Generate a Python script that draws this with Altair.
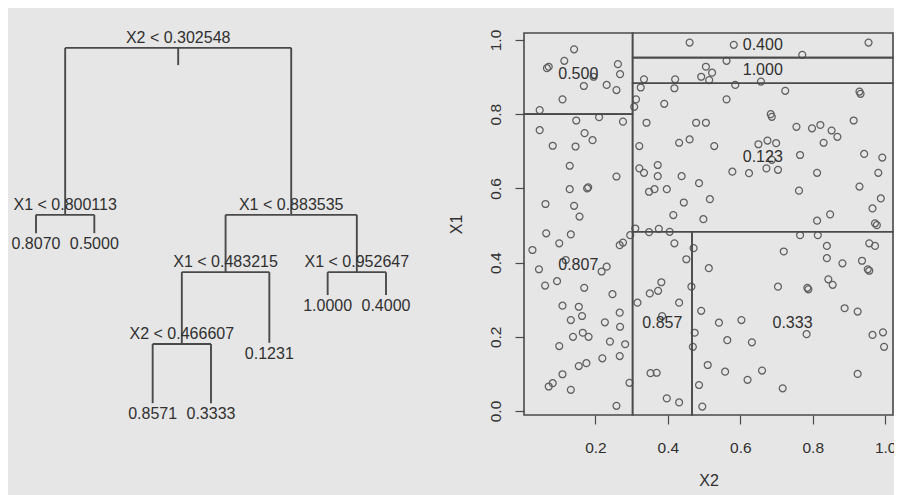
import altair as alt
import pandas as pd

# ---------------- data ----------------
# regression tree (R tree numbering: children of n are 2n and 2n+1)
node_num = [1, 2, 3, 4, 5, 6, 7, 12, 13, 14, 15, 24, 25]
node_label = ["X2 < 0.302548", "X1 < 0.800113", "X1 < 0.883535", "0.8070", "0.5000",
              "X1 < 0.483215", "X1 < 0.952647", "X2 < 0.466607", "0.1231", "1.0000",
              "0.4000", "0.8571", "0.3333"]
node_height = [96.1, 52.4, 52.4, 47.6, 47.6, 37.4, 37.4, 18.6, 18.9, 31.4, 31.4, 3.1, 3.1]

# partition regions: (X2 low, X2 high, X1 low, X1 high), None = open end
region_label = ["0.807", "0.500", "0.857", "0.333", "0.123", "1.000", "0.400"]
region_x2_lo = [None, None, 0.302548, 0.466607, 0.302548, 0.302548, 0.302548]
region_x2_hi = [0.302548, 0.302548, 0.466607, None, None, None, None]
region_x1_lo = [None, 0.800113, None, None, 0.483215, 0.883535, 0.952647]
region_x1_hi = [0.800113, None, 0.483215, 0.483215, 0.883535, 0.952647, None]

# scatter points
x2_vals = [0.141, 0.114, 0.066, 0.071, 0.262, 0.268, 0.168, 0.195, 0.231, 0.258, 0.109, 0.046,
           0.460, 0.582, 0.771, 0.954, 0.562, 0.505, 0.492, 0.522, 0.514,
           0.334, 0.325, 0.420, 0.418, 0.586, 0.657, 0.724, 0.929, 0.932,
           0.312, 0.307, 0.390, 0.562, 0.684, 0.687,
           0.147, 0.210, 0.276, 0.046, 0.341, 0.478, 0.505,
           0.170, 0.192, 0.082, 0.145, 0.431, 0.460, 0.528, 0.321,
           0.650, 0.675, 0.699, 0.755, 0.798, 0.821, 0.852, 0.868, 0.830, 0.913,
           0.765, 0.942, 0.992, 0.129, 0.258, 0.321, 0.334, 0.372, 0.372, 0.438,
           0.578, 0.624, 0.672, 0.704, 0.687, 0.812, 0.981,
           0.129, 0.177, 0.180, 0.348, 0.363, 0.397, 0.486, 0.516, 0.444, 0.762, 0.929, 0.988,
           0.062, 0.141, 0.156, 0.415, 0.498, 0.965, 0.848, 0.812, 0.972, 0.977,
           0.064, 0.132, 0.310, 0.296, 0.348, 0.375, 0.405, 0.765, 0.814,
           0.026, 0.100, 0.267, 0.276, 0.418, 0.471, 0.720, 0.839, 0.956, 0.972,
           0.044, 0.118, 0.217, 0.231, 0.451, 0.513, 0.839, 0.882, 0.936, 0.952, 0.956,
           0.061, 0.094, 0.169, 0.247, 0.382, 0.373, 0.350, 0.465, 0.704, 0.785, 0.788, 0.843, 0.855,
           0.109, 0.154, 0.163, 0.132, 0.267, 0.226, 0.268, 0.316, 0.431, 0.384, 0.492, 0.541, 0.603, 0.888, 0.924,
           0.474, 0.469, 0.564, 0.632, 0.783, 0.965, 0.994, 0.997,
           0.100, 0.138, 0.165, 0.181, 0.240, 0.282, 0.267, 0.219, 0.154, 0.175, 0.109, 0.071, 0.082, 0.132, 0.294, 0.352, 0.369,
           0.510, 0.558, 0.620, 0.660, 0.924, 0.486, 0.717, 0.258, 0.397, 0.431, 0.495]
x1_vals = [0.975, 0.944, 0.924, 0.928, 0.935, 0.908, 0.876, 0.901, 0.879, 0.865, 0.840, 0.811,
           0.993, 0.987, 0.960, 0.993, 0.944, 0.928, 0.901, 0.912, 0.892,
           0.894, 0.872, 0.894, 0.870, 0.879, 0.888, 0.863, 0.861, 0.855,
           0.840, 0.820, 0.828, 0.840, 0.800, 0.793,
           0.783, 0.792, 0.780, 0.757, 0.777, 0.777, 0.777,
           0.749, 0.730, 0.715, 0.713, 0.723, 0.732, 0.714, 0.714,
           0.719, 0.729, 0.722, 0.766, 0.762, 0.771, 0.756, 0.739, 0.723, 0.783,
           0.690, 0.693, 0.683, 0.661, 0.632, 0.654, 0.642, 0.663, 0.633, 0.633,
           0.645, 0.641, 0.654, 0.650, 0.677, 0.642, 0.642,
           0.598, 0.600, 0.603, 0.591, 0.598, 0.598, 0.614, 0.571, 0.562, 0.594, 0.605, 0.573,
           0.558, 0.553, 0.524, 0.528, 0.517, 0.546, 0.530, 0.513, 0.506, 0.501,
           0.479, 0.476, 0.492, 0.474, 0.482, 0.491, 0.483, 0.474, 0.474,
           0.434, 0.452, 0.447, 0.454, 0.452, 0.439, 0.430, 0.445, 0.452, 0.445,
           0.382, 0.407, 0.376, 0.389, 0.409, 0.385, 0.412, 0.398, 0.405, 0.382, 0.378,
           0.338, 0.350, 0.332, 0.315, 0.347, 0.324, 0.317, 0.335, 0.335, 0.332, 0.328, 0.355, 0.340,
           0.284, 0.281, 0.256, 0.245, 0.265, 0.239, 0.227, 0.292, 0.292, 0.256, 0.270, 0.238, 0.245, 0.277, 0.268,
           0.211, 0.173, 0.191, 0.185, 0.207, 0.205, 0.212, 0.173,
           0.175, 0.200, 0.211, 0.200, 0.187, 0.180, 0.148, 0.142, 0.121, 0.129, 0.099, 0.066, 0.075, 0.057, 0.076, 0.102, 0.103,
           0.124, 0.106, 0.084, 0.109, 0.100, 0.070, 0.061, 0.014, 0.034, 0.023, 0.012]

x_ticks = [0.2, 0.4, 0.6, 0.8, 1.0]
y_ticks = [0.0, 0.2, 0.4, 0.6, 0.8, 1.0]

# ---------------- styling ----------------
BG = "#e6e6e6"
INK = "#303030"
LINE = "#4a4a4a"
FONT = "Liberation Sans"
X2_DOM = [0.0027, 1.0216]
X1_DOM = [-0.0108, 1.0189]
TREE_X_DOM = [0.52, 8.063]
TREE_Y_DOM = [0, 100]
RIGHT_W = 369

# ---------------- tree layout ----------------
height = dict(zip(node_num, node_height))
label = dict(zip(node_num, node_label))
nodes = set(node_num)
is_leaf = {n: (2 * n not in nodes) for n in node_num}
xpos = {}
order = [0]


def place(n):
    if is_leaf[n]:
        order[0] += 1
        xpos[n] = order[0]
    else:
        place(2 * n)
        place(2 * n + 1)
        xpos[n] = (xpos[2 * n] + xpos[2 * n + 1]) / 2


place(1)

segs = []
for n in node_num:
    if n != 1:
        segs.append(dict(x=xpos[n], x2=xpos[n], y=height[n // 2], y2=height[n]))
    if not is_leaf[n]:
        segs.append(dict(x=xpos[2 * n], x2=xpos[2 * n + 1], y=height[n], y2=height[n]))
segs.append(dict(x=xpos[1], x2=xpos[1], y=height[1], y2=height[1] - 4.5))
seg_df = pd.DataFrame(segs)

txt_df = pd.DataFrame([dict(x=xpos[n], y=height[n], label=label[n], leaf=is_leaf[n]) for n in node_num])

tx = alt.Scale(domain=TREE_X_DOM, nice=False, zero=False)
ty = alt.Scale(domain=TREE_Y_DOM, nice=False, zero=False)

tree_lines = alt.Chart(seg_df).mark_rule(color=LINE, strokeWidth=1.9).encode(
    x=alt.X("x:Q", scale=tx, axis=None),
    x2="x2:Q",
    y=alt.Y("y:Q", scale=ty, axis=None),
    y2="y2:Q",
)
tree_internal = alt.Chart(txt_df[~txt_df["leaf"]]).mark_text(
    font=FONT, fontSize=16, color=INK, baseline="middle", dy=-10
).encode(x=alt.X("x:Q", scale=tx, axis=None), y=alt.Y("y:Q", scale=ty, axis=None), text="label:N")
tree_leaves = alt.Chart(txt_df[txt_df["leaf"]]).mark_text(
    font=FONT, fontSize=16, color=INK, baseline="middle", dy=11
).encode(x=alt.X("x:Q", scale=tx, axis=None), y=alt.Y("y:Q", scale=ty, axis=None), text="label:N")

left = alt.layer(tree_lines, tree_internal, tree_leaves).properties(width=440, height=382)

# ---------------- partition plot ----------------
def lo(v, d):
    return d[0] if v is None else v


def hi(v, d):
    return d[1] if v is None else v


reg_df = pd.DataFrame(dict(
    label=region_label,
    xa=[lo(v, X2_DOM) for v in region_x2_lo],
    xb=[hi(v, X2_DOM) for v in region_x2_hi],
    ya=[lo(v, X1_DOM) for v in region_x1_lo],
    yb=[hi(v, X1_DOM) for v in region_x1_hi],
))
reg_df["xc"] = (reg_df["xa"] + reg_df["xb"]) / 2
reg_df["yc"] = (reg_df["ya"] + reg_df["yb"]) / 2

pts_df = pd.DataFrame(dict(X2=x2_vals, X1=x1_vals))

sx = alt.Scale(domain=X2_DOM, nice=False, zero=False)
sy = alt.Scale(domain=X1_DOM, nice=False, zero=False)

xaxis = alt.Axis(values=x_ticks, format=".1f", grid=False, domain=False, tickSize=9,
                 tickColor=LINE, tickWidth=1.2, labelFont=FONT, labelFontSize=15.5, labelColor=INK,
                 labelBaseline="middle", labelPadding=23, title="X2", titleFont=FONT,
                 titleFontSize=16, titleFontWeight="normal", titleColor=INK,
                 titleX=RIGHT_W / 2, titleY=65, titleBaseline="middle", titleAlign="center")
yaxis = alt.Axis(values=y_ticks, format=".1f", grid=False, domain=False, tickSize=9,
                 tickColor=LINE, tickWidth=1.2, labelFont=FONT, labelFontSize=15.5, labelColor=INK,
                 labelAngle=270, labelAlign="center", labelBaseline="middle", labelPadding=20,
                 title="X1", titleFont=FONT, titleFontSize=16, titleFontWeight="normal",
                 titleColor=INK, titleAngle=270, titleX=-68, titleY=191,
                 titleBaseline="middle", titleAlign="center")

points = alt.Chart(pts_df).mark_point(shape="circle", filled=False, size=48, strokeWidth=1.25,
                                      color="#606060", opacity=1).encode(
    x=alt.X("X2:Q", scale=sx, axis=xaxis),
    y=alt.Y("X1:Q", scale=sy, axis=yaxis),
)
regions = alt.Chart(reg_df).mark_rect(fillOpacity=0, stroke=LINE, strokeWidth=1.6).encode(
    x=alt.X("xa:Q", scale=sx), x2="xb:Q",
    y=alt.Y("ya:Q", scale=sy), y2="yb:Q",
)
reg_text = alt.Chart(reg_df).mark_text(font=FONT, fontSize=16, color=INK, baseline="middle").encode(
    x=alt.X("xc:Q", scale=sx), y=alt.Y("yc:Q", scale=sy), text="label:N"
)

right = alt.layer(points, regions, reg_text).properties(width=RIGHT_W, height=382)

chart = alt.hconcat(left, right, spacing=76, bounds="flush").properties(
    autosize=alt.AutoSizeParams(type="none"),
    padding={"left": 0, "top": 25, "right": 886, "bottom": 454},
    background=BG,
).configure_view(stroke="transparent")

chart.save("out.html", embed_options={"renderer": "svg", "actions": False})
